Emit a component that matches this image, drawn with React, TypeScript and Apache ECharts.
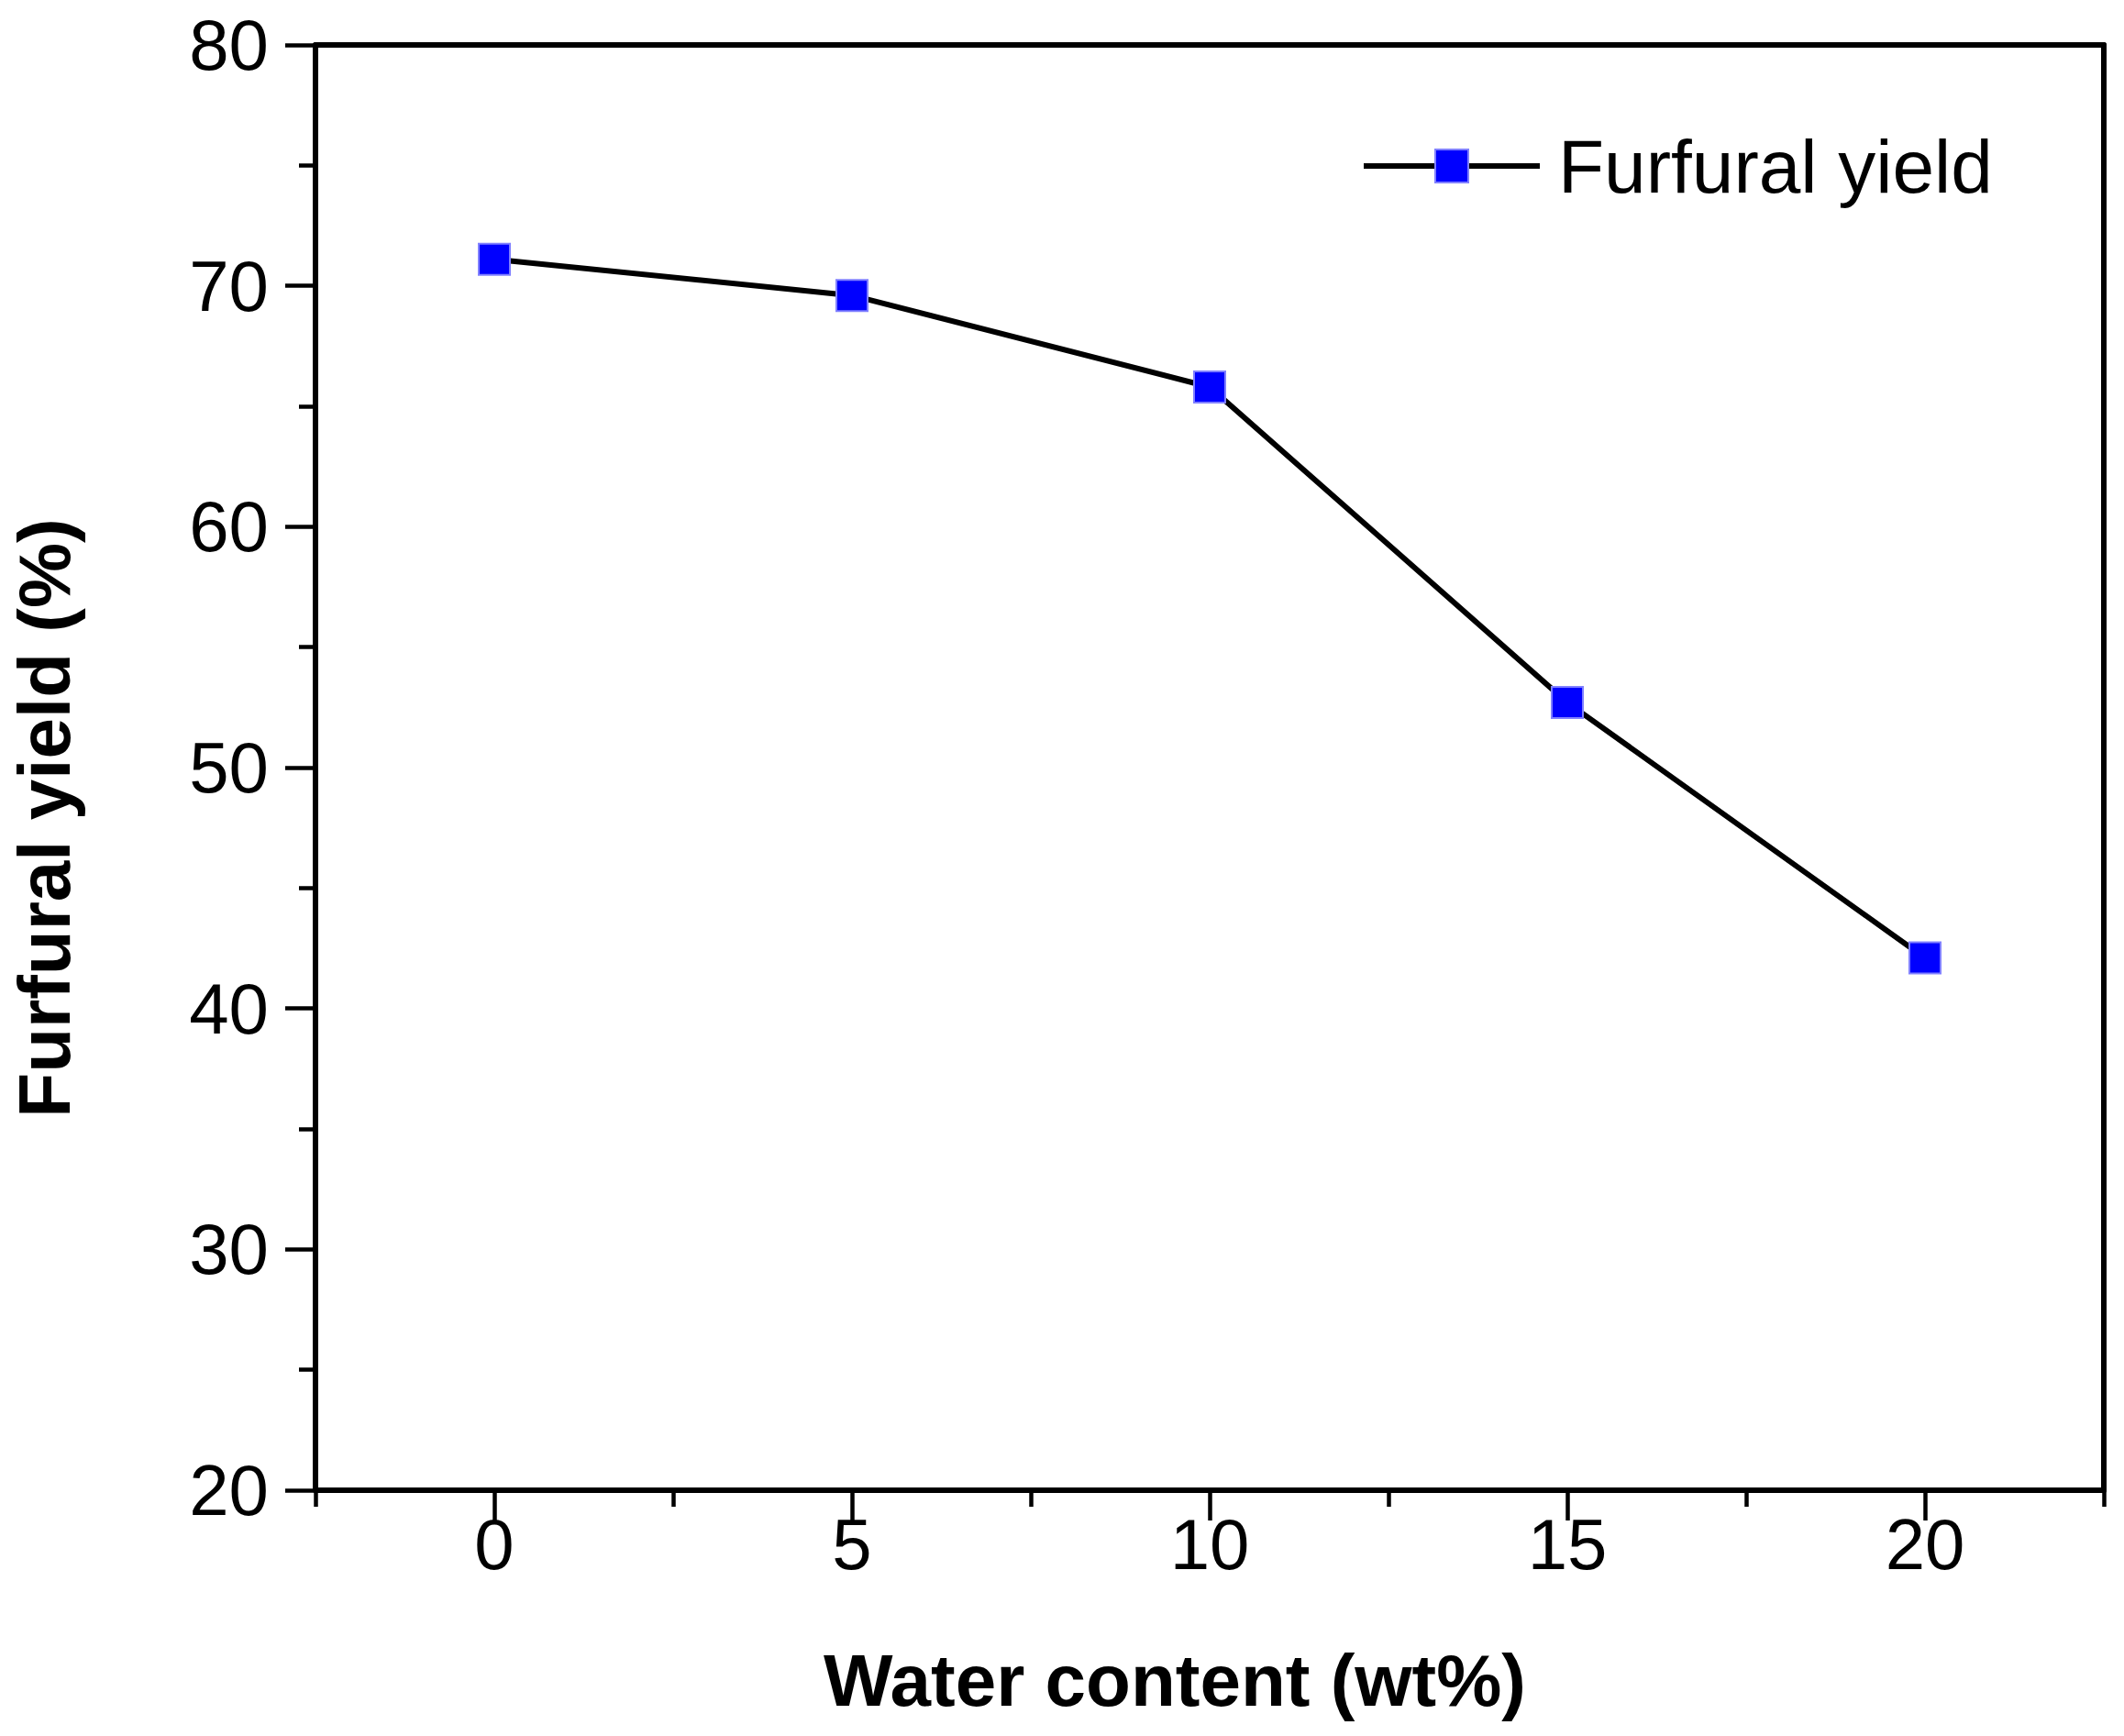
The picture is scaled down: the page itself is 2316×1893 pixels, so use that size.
import React, { useEffect, useRef } from "react";
import * as echarts from "echarts";

const waterContent = [0, 5, 10, 15, 20];
const furfuralYield = [71.1, 69.6, 65.8, 52.7, 42.1];
const xMajorTicks = [0, 5, 10, 15, 20];
const xMinorTicks = [-2.5, 2.5, 7.5, 12.5, 17.5, 22.5];
const yMajorTicks = [20, 30, 40, 50, 60, 70, 80];
const yMinorTicks = [25, 35, 45, 55, 65, 75];
const seriesName = "Furfural yield";
const xTitle = "Water content (wt%)";
const yTitle = "Furfural yield (%)";

const FONT = "'Liberation Sans', Arial, sans-serif";
const X_MIN = -2.5;
const X_MAX = 22.5;
const Y_MIN = 20;
const Y_MAX = 80;

export default function App() {
  const ref = useRef<HTMLDivElement>(null);

  useEffect(() => {
    if (!ref.current) return;
    const chart = echarts.init(ref.current, undefined, { renderer: "svg" });
    const lineBase = { show: true, onZero: false, lineStyle: { color: "#000", width: 6 } };
    const tickStyle = { color: "#000", width: 4.5 };
    const hidden = { show: false };

    chart.setOption({
      animation: false,
      backgroundColor: "#fff",
      textStyle: { fontFamily: FONT },
      grid: { left: 341, right: 22, top: 49, bottom: 268, containLabel: false },
      legend: {
        show: true,
        left: 1484,
        top: 140,
        padding: 0,
        itemWidth: 192,
        itemHeight: 45,
        data: [seriesName],
        lineStyle: { width: 6, color: "#000" },
        textStyle: { fontFamily: FONT, fontSize: 82, color: "#000", padding: [0, 0, 0, 15] },
      },
      xAxis: [
        {
          type: "value",
          position: "bottom",
          min: X_MIN,
          max: X_MAX,
          axisLine: lineBase,
          axisTick: { show: true, inside: false, length: 33, customValues: xMajorTicks, lineStyle: tickStyle },
          axisLabel: { show: true, customValues: xMajorTicks, margin: 20, fontSize: 78, color: "#000", fontFamily: FONT },
          splitLine: hidden,
          name: xTitle,
          nameLocation: "middle",
          nameGap: 167,
          nameTextStyle: { fontSize: 80, fontWeight: "bold", color: "#000", fontFamily: FONT, padding: [0, 76, 0, 0] },
        },
        {
          type: "value",
          position: "bottom",
          min: X_MIN,
          max: X_MAX,
          axisLine: { show: false, onZero: false },
          axisTick: { show: true, inside: false, length: 18, customValues: xMinorTicks, lineStyle: tickStyle },
          axisLabel: hidden,
          splitLine: hidden,
        },
        {
          type: "value",
          position: "top",
          min: X_MIN,
          max: X_MAX,
          axisLine: lineBase,
          axisTick: hidden,
          axisLabel: hidden,
          splitLine: hidden,
        },
      ],
      yAxis: [
        {
          type: "value",
          position: "left",
          min: Y_MIN,
          max: Y_MAX,
          axisLine: lineBase,
          axisTick: { show: true, inside: false, length: 33, customValues: yMajorTicks, lineStyle: tickStyle },
          axisLabel: { show: true, customValues: yMajorTicks, margin: 51, fontSize: 78, color: "#000", fontFamily: FONT },
          splitLine: hidden,
          name: yTitle,
          nameLocation: "middle",
          nameGap: 256,
          nameTextStyle: { fontSize: 80, fontWeight: "bold", color: "#000", fontFamily: FONT, padding: [0, 110, 0, 0] },
        },
        {
          type: "value",
          position: "left",
          min: Y_MIN,
          max: Y_MAX,
          axisLine: { show: false, onZero: false },
          axisTick: { show: true, inside: false, length: 18, customValues: yMinorTicks, lineStyle: tickStyle },
          axisLabel: hidden,
          splitLine: hidden,
        },
        {
          type: "value",
          position: "right",
          min: Y_MIN,
          max: Y_MAX,
          axisLine: lineBase,
          axisTick: hidden,
          axisLabel: hidden,
          splitLine: hidden,
        },
      ],
      series: [
        {
          name: seriesName,
          type: "line",
          xAxisIndex: 0,
          yAxisIndex: 0,
          data: waterContent.map((x, i) => [x, furfuralYield[i]]),
          symbol: "rect",
          symbolSize: 34,
          showSymbol: true,
          lineStyle: { color: "#000", width: 6 },
          itemStyle: { color: "#0000ff", borderColor: "#8080ff", borderWidth: 2 },
          emphasis: { disabled: true },
        },
      ],
    });
    return () => chart.dispose();
  }, []);

  return (
    <div
      ref={ref}
      style={{ position: "absolute", left: 0, top: 0, width: 2316, height: 1893, background: "#fff" }}
    />
  );
}
